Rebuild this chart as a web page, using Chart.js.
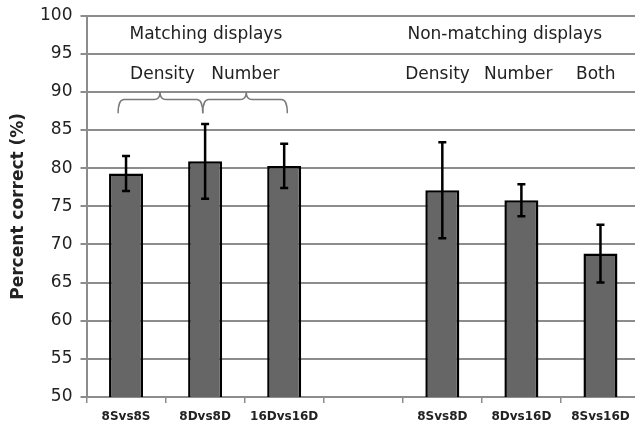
<!DOCTYPE html>
<html>
<head>
<meta charset="utf-8">
<script src="https://cdn.jsdelivr.net/npm/chart.js@4/dist/chart.umd.min.js"></script>
<style>
  html, body { margin: 0; padding: 0; background: #fff; }
  #wrap { width: 635px; height: 426px; overflow: hidden; }
</style>
</head>
<body>
<div id="wrap"><canvas id="chart" width="640" height="426"></canvas></div>
<script>
// data
const labels = ['8Svs8S', '8Dvs8D', '16Dvs16D', '', '8Svs8D', '8Dvs16D', '8Svs16D'];
const percentCorrect = [79.3, 80.9, 80.3, null, 77.1, 75.8, 68.8];
const errors = [2.3, 4.9, 2.9, null, 6.3, 2.1, 3.8];

// group headings (x in category units, y in percent)
const groupTitles = ['Matching displays', 'Non-matching displays'];
const groupTitleX = [1.01, 4.79];
const groupTitleY = 97.5;
const subTitles = ['Density', 'Number', 'Density', 'Number', 'Both'];
const subTitleX = [0.46, 1.51, 3.94, 4.96, 5.94];
const subTitleY = 92.3;

// braces under the matching-display labels: [start, cusp, end]
const braces = [[-0.10, 0.43, 0.97], [0.97, 1.52, 2.04]];
const braceCuspY = 90.0, braceArmY = 89.0, braceEndY = 87.2;

const gridColor = '#8c8c8c';
const textColor = '#222';

const errorBarPlugin = {
  id: 'errorBars',
  afterDatasetsDraw(chart) {
    const ctx = chart.ctx;
    const y = chart.scales.y;
    const meta = chart.getDatasetMeta(0);
    ctx.save();
    ctx.strokeStyle = '#000';
    ctx.lineWidth = 2.5;
    meta.data.forEach((bar, i) => {
      const v = percentCorrect[i];
      const e = errors[i];
      if (v == null || e == null) return;
      const top = y.getPixelForValue(v + e);
      const bot = y.getPixelForValue(v - e);
      ctx.beginPath();
      ctx.moveTo(bar.x, top); ctx.lineTo(bar.x, bot);
      ctx.moveTo(bar.x - 4, top); ctx.lineTo(bar.x + 4, top);
      ctx.moveTo(bar.x - 4, bot); ctx.lineTo(bar.x + 4, bot);
      ctx.stroke();
    });
    ctx.restore();
  }
};

const annotationPlugin = {
  id: 'annotations',
  afterDraw(chart) {
    const ctx = chart.ctx;
    const xs = chart.scales.x, ys = chart.scales.y;
    ctx.save();
    ctx.fillStyle = textColor;
    ctx.font = '17px "DejaVu Sans"';
    ctx.textAlign = 'center';
    ctx.textBaseline = 'middle';
    groupTitles.forEach((t, i) => {
      ctx.fillText(t, xs.getPixelForValue(groupTitleX[i]), ys.getPixelForValue(groupTitleY));
    });
    subTitles.forEach((t, i) => {
      ctx.fillText(t, xs.getPixelForValue(subTitleX[i]), ys.getPixelForValue(subTitleY));
    });

    // curly braces
    ctx.strokeStyle = '#7a7a7a';
    ctx.lineWidth = 1.5;
    const yc = ys.getPixelForValue(braceCuspY);
    const ya = ys.getPixelForValue(braceArmY);
    const ye = ys.getPixelForValue(braceEndY);
    const r = 6;
    braces.forEach(b => {
      const xa = xs.getPixelForValue(b[0]);
      const xm = xs.getPixelForValue(b[1]);
      const xb = xs.getPixelForValue(b[2]);
      ctx.beginPath();
      ctx.moveTo(xa, ye);
      ctx.quadraticCurveTo(xa, ya, xa + r, ya);
      ctx.lineTo(xm - r, ya);
      ctx.quadraticCurveTo(xm, ya, xm, yc);
      ctx.quadraticCurveTo(xm, ya, xm + r, ya);
      ctx.lineTo(xb - r, ya);
      ctx.quadraticCurveTo(xb, ya, xb, ye);
      ctx.stroke();
    });
    ctx.restore();
  }
};

new Chart(document.getElementById('chart'), {
  type: 'bar',
  data: {
    labels: labels,
    datasets: [{
      data: percentCorrect,
      backgroundColor: '#666666',
      borderColor: '#000',
      borderWidth: 2.5,
      categoryPercentage: 1,
      barPercentage: 0.43
    }]
  },
  options: {
    responsive: false,
    animation: false,
    layout: { padding: { top: 13, left: 4, right: 0, bottom: 0 } },
    plugins: {
      legend: { display: false },
      tooltip: { enabled: false }
    },
    scales: {
      x: {
        grid: {
          drawOnChartArea: false,
          drawTicks: true,
          tickLength: 6,
          color: gridColor,
          lineWidth: 1.5
        },
        border: { color: gridColor, width: 2 },
        ticks: {
          color: textColor,
          padding: 7,
          maxRotation: 0,
          autoSkip: false,
          font: { family: 'DejaVu Sans', size: 12, weight: 'bold' }
        },
        afterFit(scale) { scale.height = 29; }
      },
      y: {
        min: 50,
        max: 100,
        ticks: {
          stepSize: 5,
          color: textColor,
          padding: 8,
          font: { family: 'DejaVu Sans', size: 17, lineHeight: 0.9 }
        },
        grid: { color: gridColor, lineWidth: 2, tickLength: 6 },
        border: { color: gridColor, width: 2 },
        title: {
          display: true,
          text: 'Percent correct (%)',
          color: textColor,
          padding: { top: 4, bottom: 4 },
          font: { family: 'DejaVu Sans', size: 17, weight: 'bold' }
        },
        afterFit(scale) { scale.width = 82.5; }
      }
    }
  },
  plugins: [errorBarPlugin, annotationPlugin]
});
</script>
</body>
</html>
